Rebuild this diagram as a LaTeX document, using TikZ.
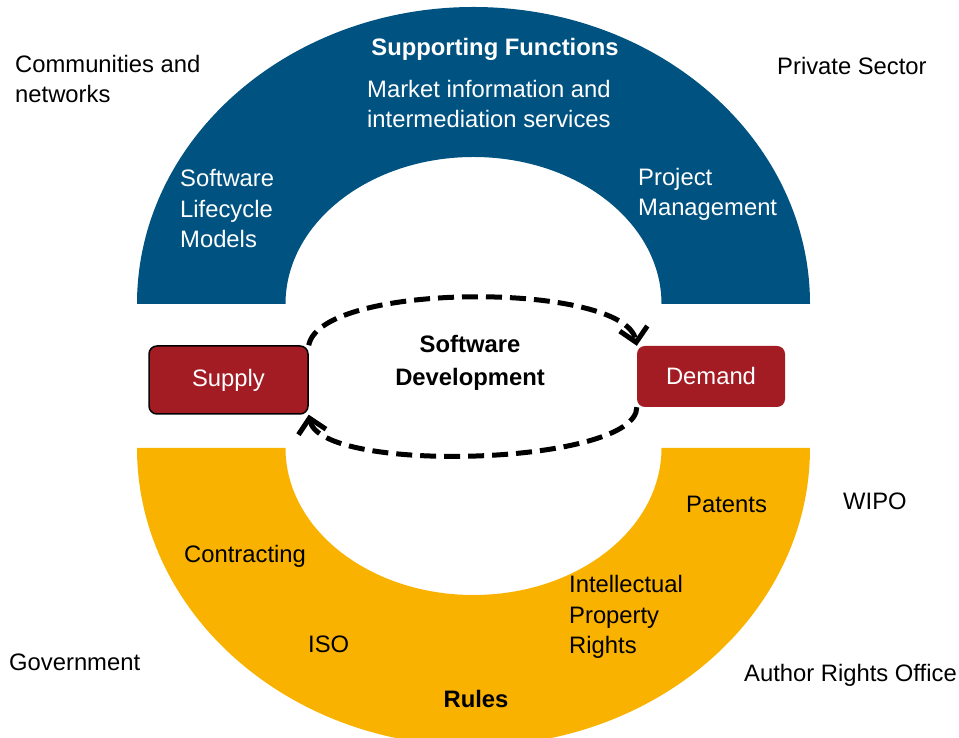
\documentclass[tikz,border=0pt]{standalone}
\usepackage{fontspec}
\setmainfont{Liberation Sans}
\usepackage{tikz}
\usetikzlibrary{arrows.meta}
\definecolor{ringblue}{RGB}{0,82,129}
\definecolor{ringyellow}{RGB}{249,178,0}
\definecolor{boxred}{RGB}{163,28,36}
\tikzset{%
  lbl/.style = {inner sep=0pt,align=left,anchor=base west,
        font=\fontsize{23.8pt}{30.8pt}\selectfont},
  wlbl/.style = {lbl,text=white},
  redbox/.style = {rectangle,rounded corners=8pt,fill=boxred,text=white,
        inner sep=0pt,font=\fontsize{23.8pt}{30.8pt}\selectfont},
  devarrow/.style = {-{Straight Barb[length=14pt,width=28pt]},line width=5pt,
        dash pattern=on 16pt off 8pt}
}
\begin{document}
\begin{tikzpicture}[x=1pt,y=1pt]
                \useasboundingbox (0,0) rectangle (959,738);
                \clip (0,0) rectangle (959,738);
                \fill[ringblue] (137,434) arc[start angle=180,end angle=0,x radius=336.5pt,y radius=297pt]
                    -- (661.5,434) arc[start angle=0,end angle=180,x radius=188pt,y radius=147pt] -- cycle;
                \fill[ringyellow] (137,290) arc[start angle=180,end angle=360,x radius=336.5pt,y radius=298pt]
                    -- (661.5,290) arc[start angle=360,end angle=180,x radius=188pt,y radius=147pt] -- cycle;
                \node[redbox,draw=black,line width=1.5pt,minimum width=159pt,minimum height=68pt] (supply) at (228.5,358) {Supply};
                \node[redbox,minimum width=148pt,minimum height=61pt] (demand) at (711,361.5) {Demand};
                \node[lbl,align=center,anchor=base,font=\fontsize{23.8pt}{33pt}\selectfont\bfseries] (devel) at (470,352) {Software\\Development};
                \draw[devarrow] (supply.north east) .. controls +(12,64) and +(-12,64) .. (demand.north west);
                \draw[devarrow] (demand.south west) .. controls +(0,-58) and +(12,-60) .. (supply.south east);
                \node[wlbl,anchor=base,font=\fontsize{23.8pt}{30.8pt}\selectfont\bfseries] (supfun) at (495,682) {Supporting Functions};
                \node[wlbl] (market) at (367,610) {Market information and\\intermediation services};
                \node[wlbl] (lifecycle) at (180,490) {Software\\Lifecycle\\Models};
                \node[wlbl] (project) at (638,522) {Project\\Management};
                \node[lbl] (communities) at (15,635) {Communities and\\networks};
                \node[lbl] (private) at (777,663) {Private Sector};
                \node[lbl] (contracting) at (184,175) {Contracting};
                \node[lbl] (iso) at (308,85) {ISO};
                \node[lbl] (patents) at (686,225) {Patents};
                \node[lbl] (ipr) at (569,84) {Intellectual\\Property\\Rights};
                \node[lbl,anchor=base,font=\fontsize{23.8pt}{30.8pt}\selectfont\bfseries] (rules) at (476,30) {Rules};
                \node[lbl] (government) at (9,67) {Government};
                \node[lbl] (wipo) at (843,228) {WIPO};
                \node[lbl] (author) at (744,56) {Author Rights Office};
            \end{tikzpicture}
\end{document}
